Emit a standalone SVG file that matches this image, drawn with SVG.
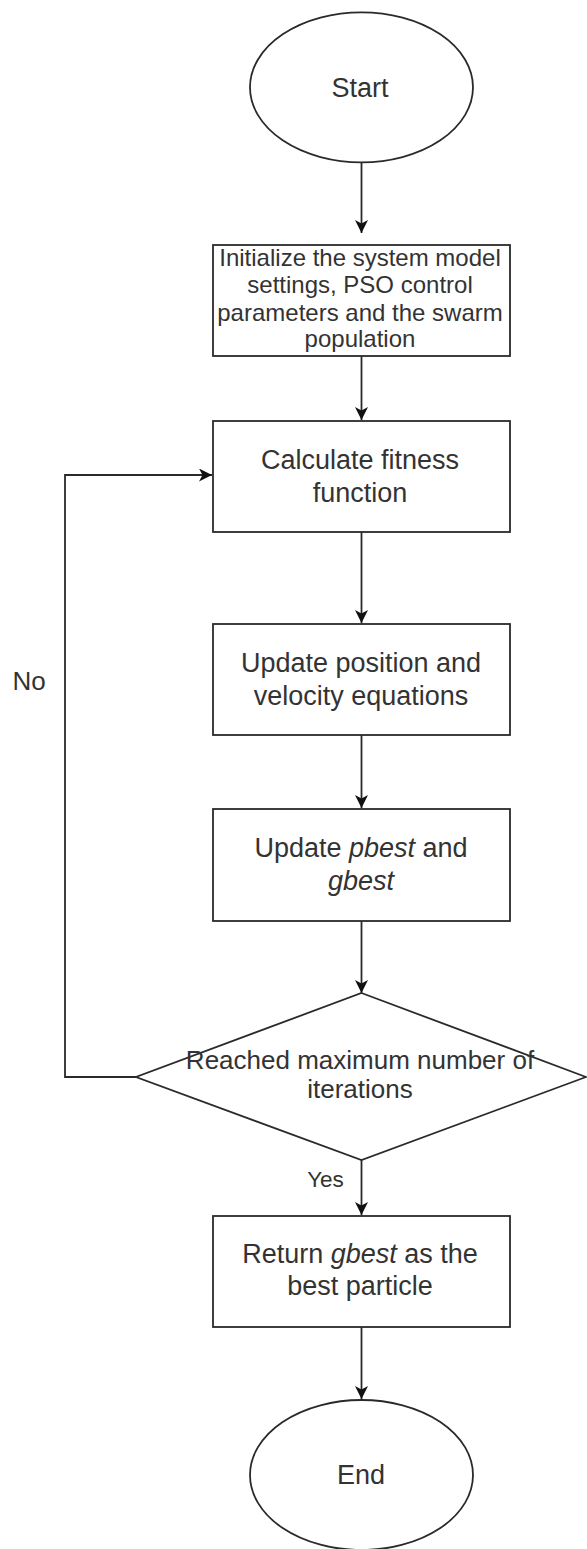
<svg xmlns="http://www.w3.org/2000/svg" width="587" height="1549" viewBox="0 0 587 1549">
<style>
.shape{fill:#fff;stroke:#2a2a2a;stroke-width:1.8}
.conn{fill:none;stroke:#2a2a2a;stroke-width:1.8}
text{font-family:"Liberation Sans",Arial,sans-serif;fill:#333;text-anchor:middle}
.t{font-size:27px}
.s{font-size:24px}
.d{font-size:26px}
.i{font-style:italic}
</style>
<defs>
<marker id="arr" markerUnits="userSpaceOnUse" markerWidth="14" markerHeight="14" refX="13" refY="6.5" orient="auto">
<path d="M0,0 L13,6.5 L0,13 L3.5,6.5 Z" fill="#111"/>
</marker>
</defs>
<g id="connectors">
<path class="conn" d="M361.5,162 V233" marker-end="url(#arr)"/>
<path class="conn" d="M361.5,356 V420" marker-end="url(#arr)"/>
<path class="conn" d="M361.5,532 V623" marker-end="url(#arr)"/>
<path class="conn" d="M361.5,735 V808" marker-end="url(#arr)"/>
<path class="conn" d="M361.5,921 V993" marker-end="url(#arr)"/>
<path class="conn" d="M361.5,1160 V1215" marker-end="url(#arr)"/>
<path class="conn" d="M361.5,1327 V1399" marker-end="url(#arr)"/>
<path class="conn" d="M136,1077 H65 V475 H212" marker-end="url(#arr)"/>
<text class="d" x="29" y="690">No</text>
<text x="325.5" y="1187" style="font-size:22.5px">Yes</text>
</g>
<g id="start">
<ellipse class="shape" cx="361.5" cy="87.3" rx="111.5" ry="75"/>
<text class="t" x="360" y="97">Start</text>
</g>
<g id="init">
<rect class="shape" x="213" y="245" width="297" height="111"/>
<text class="s" x="360" y="266">Initialize the system model</text>
<text class="s" x="360" y="293">settings, PSO control</text>
<text class="s" x="360" y="321">parameters and the swarm</text>
<text class="s" x="360" y="347">population</text>
</g>
<g id="fitness">
<rect class="shape" x="213" y="421" width="297" height="111"/>
<text class="t" x="360" y="469">Calculate fitness</text>
<text class="t" x="360" y="502">function</text>
</g>
<g id="update">
<rect class="shape" x="213" y="624" width="297" height="111"/>
<text class="t" x="361" y="672">Update position and</text>
<text class="t" x="361" y="705">velocity equations</text>
</g>
<g id="best">
<rect class="shape" x="213" y="809" width="297" height="112"/>
<text class="t" x="361" y="857">Update <tspan class="i">pbest</tspan> and</text>
<text class="t" x="361" y="890"><tspan class="i">gbest</tspan></text>
</g>
<g id="decision">
<polygon class="shape" points="361.5,993 586,1077 361.5,1160 136,1077"/>
<text class="d" x="360" y="1069">Reached maximum number of</text>
<text class="d" x="360" y="1098">iterations</text>
</g>
<g id="return">
<rect class="shape" x="213" y="1216" width="297" height="111"/>
<text class="t" x="360" y="1263">Return <tspan class="i">gbest</tspan> as the</text>
<text class="t" x="360" y="1295">best particle</text>
</g>
<g id="end">
<ellipse class="shape" cx="361.5" cy="1475" rx="111.5" ry="75"/>
<text class="t" x="361" y="1484">End</text>
</g>
</svg>
